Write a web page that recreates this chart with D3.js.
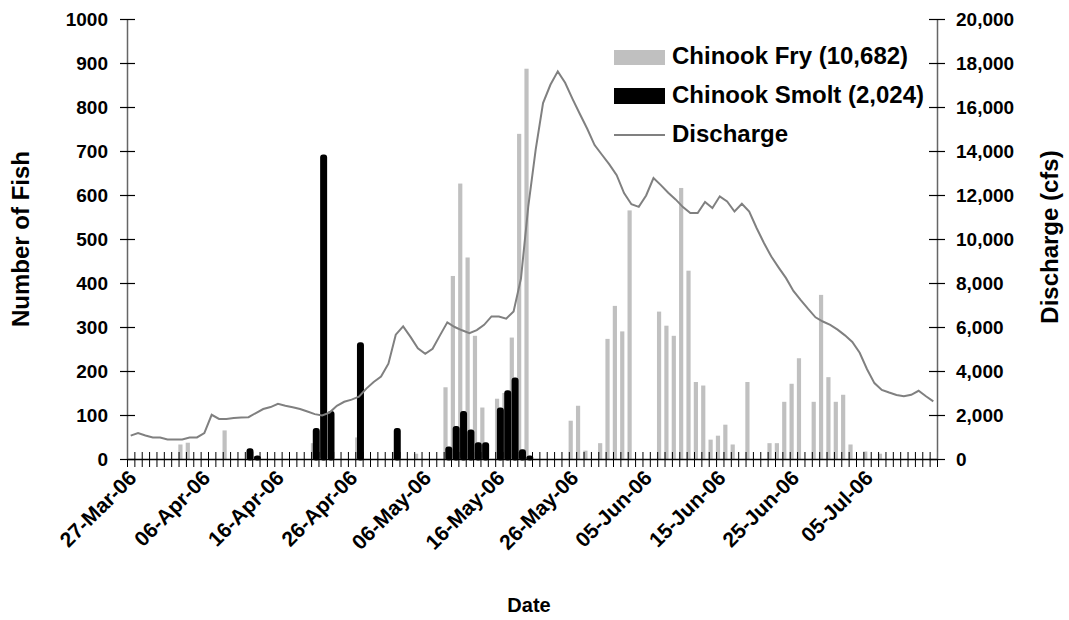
<!DOCTYPE html>
<html lang="en">
<head>
<meta charset="UTF-8">
<title>Chinook Fry and Smolt Catch with Discharge</title>
<script src="https://d3js.org/d3.v7.min.js"></script>
<style>
  body { margin: 0; background: #fff; }
  text { font-family: "Liberation Sans", Arial, sans-serif; font-weight: bold; fill: #000; }
</style>
</head>
<body>
<div id="chart"></div>
<script>
// one value per day, first day is 27-Mar-06
const firstDay = new Date(2006, 2, 27);

const fry = [
  0, 0, 0, 0, 0, 0, 0, 33, 37, 0,
  0, 0, 0, 65, 0, 0, 0, 0, 0, 0,
  0, 0, 0, 0, 0, 36, 0, 0, 0, 0,
  0, 49, 0, 0, 0, 0, 16, 0, 0, 12,
  0, 0, 0, 163, 416, 626, 458, 280, 117, 0,
  137, 150, 276, 739, 887, 0, 0, 0, 0, 0,
  87, 121, 19, 0, 36, 273, 348, 290, 565, 0,
  0, 0, 335, 303, 280, 616, 428, 175, 167, 44,
  53, 78, 33, 0, 175, 0, 0, 36, 36, 130,
  171, 229, 0, 130, 373, 186, 130, 146, 33, 0,
  17, 0, 12, 0, 0, 0, 0, 0, 0, 0
];

const smolt = [
  0, 0, 0, 0, 0, 0, 0, 0, 0, 0,
  0, 0, 0, 0, 0, 0, 21, 5, 0, 0,
  0, 0, 0, 0, 0, 67, 689, 106, 0, 0,
  0, 262, 0, 0, 0, 0, 67, 0, 0, 0,
  0, 0, 0, 25, 72, 106, 64, 35, 35, 0,
  114, 153, 182, 19, 5, 0, 0, 0, 0, 0,
  0, 0, 0, 0, 0, 0, 0, 0, 0, 0,
  0, 0, 0, 0, 0, 0, 0, 0, 0, 0,
  0, 0, 0, 0, 0, 0, 0, 0, 0, 0,
  0, 0, 0, 0, 0, 0, 0, 0, 0, 0,
  0, 0, 0, 0, 0, 0, 0, 0, 0, 0
];

// discharge in cfs
const discharge = [
  1060, 1180, 1070, 980, 980, 890, 890, 890, 980, 980,
  1180, 2010, 1820, 1820, 1860, 1890, 1900, 2090, 2270, 2360,
  2510, 2420, 2350, 2270, 2160, 2040, 1975, 2110, 2420, 2600,
  2700, 2830, 3200, 3500, 3750, 4330, 5650, 6030, 5550, 5030,
  4780, 5010, 5620, 6210, 6000, 5850, 5720, 5860, 6100, 6480,
  6480, 6380, 6710, 8200, 11500, 14060, 16180, 17010, 17620, 17100,
  16370, 15680, 15010, 14270, 13830, 13390, 12900, 12090, 11580, 11460,
  11980, 12770, 12450, 12100, 11800, 11450, 11180, 11180, 11680, 11410,
  11940, 11710, 11250, 11600, 11250, 10500, 9820, 9200, 8700, 8220,
  7640, 7220, 6820, 6440, 6250, 6100, 5880, 5620, 5320, 4830,
  4080, 3450, 3140, 3020, 2910, 2850, 2920, 3100, 2850, 2620
];

const dateTicks = ["27-Mar-06", "06-Apr-06", "16-Apr-06", "26-Apr-06", "06-May-06",
  "16-May-06", "26-May-06", "05-Jun-06", "15-Jun-06", "25-Jun-06", "05-Jul-06"];

const legendNames = ["Chinook Fry (10,682)", "Chinook Smolt (2,024)", "Discharge"];

const W = 1069, H = 620;
const margin = {top: 19, right: 132, bottom: 161, left: 127};
const width = W - margin.left - margin.right;
const height = H - margin.top - margin.bottom;

const fmt = d3.timeFormat("%d-%b-%y");
const days = d3.range(fry.length).map(i => d3.timeDay.offset(firstDay, i));
const labels = days.map(fmt);

const svg = d3.select("#chart").append("svg")
  .attr("width", W)
  .attr("height", H)
  .style("background", "#fff");

const g = svg.append("g")
  .attr("transform", `translate(${margin.left},${margin.top})`);

const x = d3.scaleBand()
  .domain(d3.range(fry.length))
  .range([0, width]);
const bw = x.bandwidth();
const cx = i => x(i) + bw / 2;

const yL = d3.scaleLinear().domain([0, 1000]).range([height, 0]);
const yR = d3.scaleLinear().domain([0, 20000]).range([height, 0]);

// fry bars (grey)
g.append("g").selectAll("rect")
  .data(fry)
  .join("rect")
    .attr("x", (d, i) => cx(i) - 3.9)
    .attr("y", d => yL(d))
    .attr("width", 4.2)
    .attr("height", d => height - yL(d))
    .attr("fill", "#c0c0c0");

// smolt bars (black, rounded tops)
g.append("g").selectAll("rect")
  .data(smolt.map((v, i) => ({v, i})).filter(d => d.v > 0))
  .join("rect")
    .attr("x", d => cx(d.i) - 0.6)
    .attr("y", d => yL(d.v))
    .attr("width", 4.2)
    .attr("height", d => height - yL(d.v))
    .attr("rx", 1.5)
    .attr("fill", "#000")
    .attr("stroke", "#000")
    .attr("stroke-width", 2.8)
    .attr("stroke-linejoin", "round");

// x axis: tick marks between days
const xb = d3.scaleLinear().domain([0, fry.length]).range([0, width]);
const xAxis = g.append("g")
  .attr("transform", `translate(0,${height})`)
  .call(d3.axisBottom(xb).tickValues(d3.range(fry.length + 1)).tickFormat("").tickSizeOuter(0));
xAxis.select(".domain").attr("stroke", "#000").attr("stroke-width", 1.5);
xAxis.selectAll(".tick line").attr("y1", -7).attr("y2", 8).attr("stroke", "#000");

// date labels every ten days
const tickIdx = dateTicks.map(t => labels.indexOf(t));
g.append("g")
  .attr("transform", `translate(0,${height})`)
  .selectAll("text")
  .data(tickIdx)
  .join("text")
    .attr("transform", i => `translate(${cx(i) + 2},${15}) rotate(-45)`)
    .attr("text-anchor", "end")
    .attr("dy", "0.35em")
    .style("font-size", "21px")
    .text(i => labels[i]);

// discharge line
const line = d3.line()
  .x((d, i) => cx(i))
  .y(d => yR(d));
g.append("path")
  .datum(discharge)
  .attr("fill", "none")
  .attr("stroke", "#808080")
  .attr("stroke-width", 2)
  .attr("d", line);

// left axis
const left = g.append("g")
  .call(d3.axisLeft(yL).tickValues(d3.range(0, 1001, 100)).tickFormat(d3.format("d")).tickSizeOuter(0).tickPadding(13));
left.select(".domain").attr("stroke", "#666").attr("stroke-width", 1.5);
left.selectAll(".tick line").attr("x1", -7).attr("x2", 8).attr("stroke", "#000").attr("stroke-width", 1.2);
left.selectAll(".tick text").style("font-size", "19px").style("font-family", "Liberation Sans, Arial, sans-serif").style("font-weight", "bold");

// right axis
const right = g.append("g")
  .attr("transform", `translate(${width},0)`)
  .call(d3.axisRight(yR).tickValues(d3.range(0, 20001, 2000)).tickFormat(d3.format(",")).tickSizeOuter(0).tickPadding(13));
right.select(".domain").attr("stroke", "#666").attr("stroke-width", 1.5);
right.selectAll(".tick line").attr("x1", -8).attr("x2", 8).attr("stroke", "#000").attr("stroke-width", 1.2);
right.selectAll(".tick text").style("font-size", "19px").style("font-family", "Liberation Sans, Arial, sans-serif").style("font-weight", "bold");

// axis titles
svg.append("text")
  .attr("transform", `translate(29,${margin.top + height / 2}) rotate(-90)`)
  .attr("text-anchor", "middle")
  .style("font-size", "24px")
  .text("Number of Fish");

svg.append("text")
  .attr("transform", `translate(1058,${margin.top + height / 2 - 2}) rotate(-90)`)
  .attr("text-anchor", "middle")
  .style("font-size", "24px")
  .text("Discharge (cfs)");

svg.append("text")
  .attr("x", 529)
  .attr("y", 612)
  .attr("text-anchor", "middle")
  .style("font-size", "20px")
  .text("Date");

// legend
const legend = svg.append("g").attr("transform", "translate(614,0)");
legend.append("rect").attr("x", 0).attr("y", 50).attr("width", 51).attr("height", 15).attr("fill", "#c0c0c0");
legend.append("rect").attr("x", 0).attr("y", 88).attr("width", 51).attr("height", 16).attr("fill", "#000");
legend.append("line").attr("x1", 0).attr("x2", 51).attr("y1", 135).attr("y2", 135)
  .attr("stroke", "#808080").attr("stroke-width", 2);
legend.selectAll("text.lg")
  .data(legendNames)
  .join("text")
    .attr("class", "lg")
    .attr("x", 58)
    .attr("y", (d, i) => 64 + i * 38.8)
    .style("font-size", "24px")
    .text(d => d);
</script>
</body>
</html>
